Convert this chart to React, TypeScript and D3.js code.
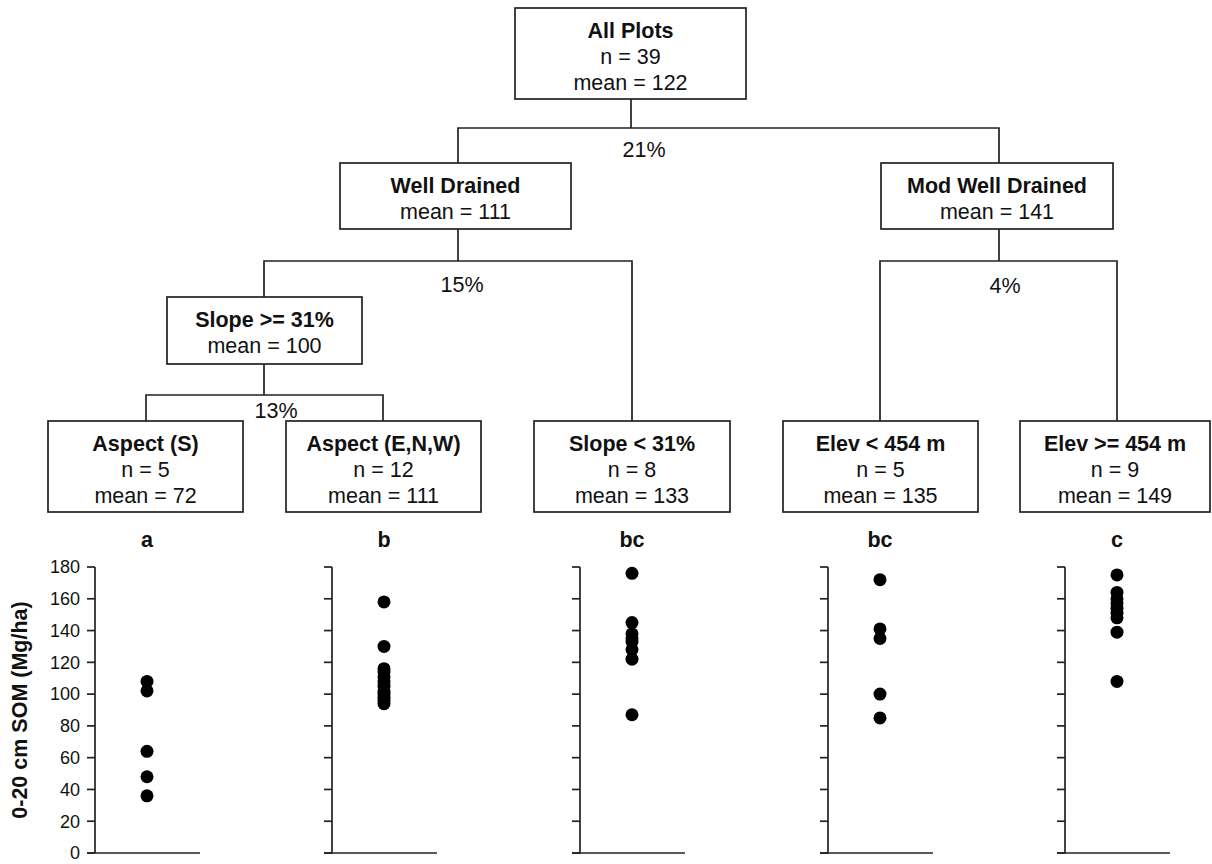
import React from "react";
import * as d3 from "d3";

// ---------- data ----------
const leafTitles = ["Aspect (S)", "Aspect (E,N,W)", "Slope < 31%", "Elev < 454 m", "Elev >= 454 m"];
const leafN = [5, 12, 8, 5, 9];
const leafMeans = [72, 111, 133, 135, 149];
const leafLetters = ["a", "b", "bc", "bc", "c"];

const somAspectS = [108, 102, 64, 48, 36];
const somAspectENW = [158, 130, 116, 114, 111, 108, 105, 102, 100, 98, 96, 94];
const somSlopeLow = [176, 145, 138, 135, 133, 128, 122, 87];
const somElevLow = [172, 141, 135, 100, 85];
const somElevHigh = [175, 164, 160, 157, 154, 151, 148, 139, 108];
const leafValues = [somAspectS, somAspectENW, somSlopeLow, somElevLow, somElevHigh];

const yTicks = [0, 20, 40, 60, 80, 100, 120, 140, 160, 180];
const yTitle = "0-20 cm SOM (Mg/ha)";

const innerIds = ["all", "wd", "mwd", "slopeHigh"];
const innerTitles = ["All Plots", "Well Drained", "Mod Well Drained", "Slope >= 31%"];
const innerN: (number | null)[] = [39, null, null, null];
const innerMeans = [122, 111, 141, 100];

// splits: parent -> [left child, right child], explained variance
const splitParents = ["all", "wd", "mwd", "slopeHigh"];
const splitChildren = [["wd", "mwd"], ["slopeHigh", "leaf2"], ["leaf3", "leaf4"], ["leaf0", "leaf1"]];
const splitPercents = ["21%", "15%", "4%", "13%"];

// ---------- layout (positions only) ----------
const W = 1212, H = 864;
const boxLayout: Record<string, { x0: number; x1: number; y0: number; y1: number; cx: number }> = {
  all: { x0: 515, x1: 746, y0: 8, y1: 99, cx: 631 },
  wd: { x0: 340, x1: 571, y0: 163, y1: 229, cx: 458 },
  mwd: { x0: 881, x1: 1113, y0: 163, y1: 229, cx: 999 },
  slopeHigh: { x0: 167, x1: 362, y0: 297, y1: 364, cx: 264 },
  leaf0: { x0: 48, x1: 243, y0: 421, y1: 512, cx: 146 },
  leaf1: { x0: 286, x1: 481, y0: 421, y1: 512, cx: 383 },
  leaf2: { x0: 534, x1: 730, y0: 421, y1: 512, cx: 632 },
  leaf3: { x0: 783, x1: 978, y0: 421, y1: 512, cx: 880 },
  leaf4: { x0: 1020, x1: 1210, y0: 421, y1: 512, cx: 1117 },
};
const splitBarY = [128, 261, 261, 395];
const splitLabelPos = [[644, 157], [462, 292], [1005, 293], [276, 418]];

const panelAxisX = [95, 332, 580, 828, 1065];
const dotOffset = 52;
const axisLen = 105;
const tickLen = 8;

const FONT = "'Liberation Sans', Arial, Helvetica, sans-serif";
const INK = "#111";
const FS = 21.5;

export default function App() {
  const y = d3.scaleLinear().domain([0, 180]).range([853, 567]);
  const panelX = d3.scaleOrdinal<number, number>().domain(d3.range(5)).range(panelAxisX);

  const boxText = (id: string, lines: { t: string; bold: boolean }[]) => {
    const b = boxLayout[id];
    const mid = (b.x0 + b.x1) / 2;
    const offs = [29.5, 56, 82];
    return (
      <g key={id}>
        <rect x={b.x0} y={b.y0} width={b.x1 - b.x0} height={b.y1 - b.y0} fill="white" stroke="#222" strokeWidth={1.7} />
        {lines.map((l, i) => (
          <text key={i} x={mid} y={b.y0 + offs[i]} textAnchor="middle" fontSize={FS} fontWeight={l.bold ? "bold" : "normal"} fill={INK}>
            {l.t}
          </text>
        ))}
      </g>
    );
  };

  return (
    <div style={{ position: "absolute", left: 0, top: 0 }}>
      <svg width={W} height={H} viewBox={`0 0 ${W} ${H}`} style={{ display: "block", fontFamily: FONT, background: "white" }}>
        <rect x={0} y={0} width={W} height={H} fill="white" />
        {/* connectors */}
        {splitParents.map((p, i) => {
          const pb = boxLayout[p];
          const [lc, rc] = splitChildren[i].map((c) => boxLayout[c]);
          const by = splitBarY[i];
          const path = d3.path();
          path.moveTo(pb.cx, pb.y1);
          path.lineTo(pb.cx, by);
          path.moveTo(lc.cx, lc.y0);
          path.lineTo(lc.cx, by);
          path.lineTo(rc.cx, by);
          path.lineTo(rc.cx, rc.y0);
          return (
            <g key={p}>
              <path d={path.toString()} fill="none" stroke="#222" strokeWidth={1.7} />
              <text x={splitLabelPos[i][0]} y={splitLabelPos[i][1]} textAnchor="middle" fontSize={FS} fill={INK}>
                {splitPercents[i]}
              </text>
            </g>
          );
        })}
        {/* inner nodes */}
        {innerIds.map((id, i) => {
          const lines = [{ t: innerTitles[i], bold: true }];
          if (innerN[i] !== null) lines.push({ t: `n = ${innerN[i]}`, bold: false });
          lines.push({ t: `mean = ${innerMeans[i]}`, bold: false });
          return boxText(id, lines);
        })}
        {/* leaves */}
        {leafTitles.map((t, i) =>
          boxText(`leaf${i}`, [
            { t, bold: true },
            { t: `n = ${leafN[i]}`, bold: false },
            { t: `mean = ${leafMeans[i]}`, bold: false },
          ])
        )}
        {/* panels */}
        {leafValues.map((vals, i) => {
          const ax = panelX(i);
          const dx = ax + dotOffset;
          return (
            <g key={`panel${i}`}>
              <text x={dx} y={547} textAnchor="middle" fontSize={FS} fontWeight="bold" fill={INK}>
                {leafLetters[i]}
              </text>
              <line x1={ax} x2={ax} y1={y(180)} y2={y(0)} stroke="#222" strokeWidth={1.7} />
              <line x1={ax - tickLen} x2={ax + axisLen} y1={y(0)} y2={y(0)} stroke="#222" strokeWidth={1.7} />
              {yTicks.map((v) => (
                <line key={v} x1={ax - tickLen} x2={ax} y1={y(v)} y2={y(v)} stroke="#222" strokeWidth={1.7} />
              ))}
              {i === 0 &&
                yTicks.map((v) => (
                  <text key={`l${v}`} x={ax - 15} y={y(v)} dy="0.35em" textAnchor="end" fontSize={18} fill={INK}>
                    {v}
                  </text>
                ))}
              {vals.map((v, j) => (
                <circle key={j} cx={dx} cy={y(v)} r={6.5} fill="#000" />
              ))}
            </g>
          );
        })}
        {/* y-axis title */}
        <text
          transform={`translate(${27},${(y(0) + y(180)) / 2}) rotate(-90)`}
          textAnchor="middle"
          fontSize={FS}
          fontWeight="bold"
          fill={INK}
        >
          {yTitle}
        </text>
      </svg>
    </div>
  );
}
